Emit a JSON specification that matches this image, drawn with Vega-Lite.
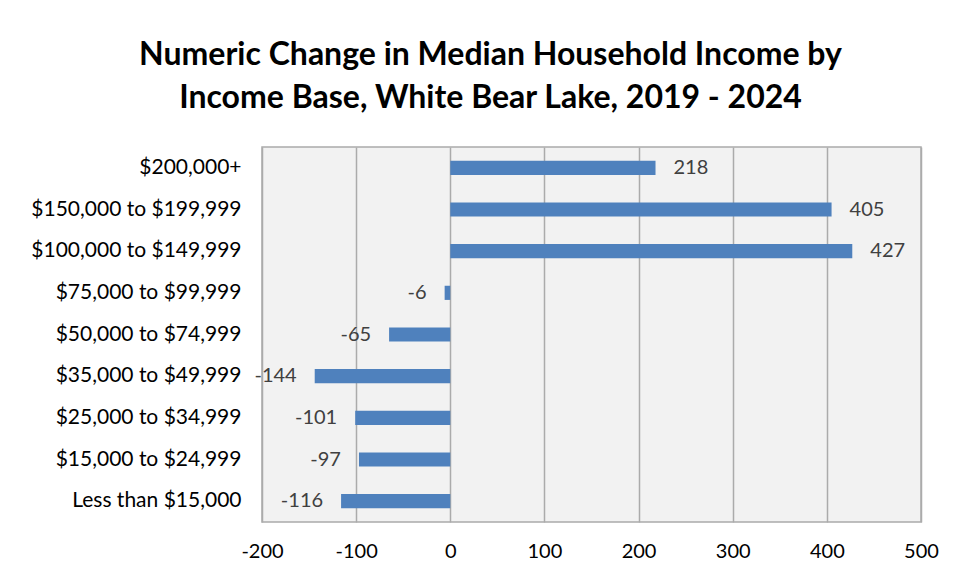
{
  "$schema": "https://vega.github.io/schema/vega-lite/v6.json",
  "width": 659,
  "height": 375,
  "autosize": {"type": "none"},
  "padding": {"left": 262, "top": 147, "right": 33, "bottom": 57},
  "background": "white",
  "title": {
    "text": ["Numeric Change in Median Household Income by", "Income Base, White Bear Lake, 2019 - 2024"],
    "font": "Lato",
    "fontSize": 32,
    "fontWeight": "bold",
    "color": "#000000",
    "lineHeight": 43,
    "anchor": "middle",
    "frame": "group",
    "dx": -101,
    "offset": 32
  },
  "config": {
    "view": {"fill": "#F2F2F2", "stroke": "#ABABAB", "strokeWidth": 1.5},
    "font": "Lato",
    "locale": {
      "number": {"decimal": ".", "thousands": ",", "grouping": [3], "currency": ["$", ""], "minus": "-"}
    }
  },
  "data": {
    "values": [
      {"category": "$200,000+", "value": 218},
      {"category": "$150,000 to $199,999", "value": 405},
      {"category": "$100,000 to $149,999", "value": 427},
      {"category": "$75,000 to $99,999", "value": -6},
      {"category": "$50,000 to $74,999", "value": -65},
      {"category": "$35,000 to $49,999", "value": -144},
      {"category": "$25,000 to $34,999", "value": -101},
      {"category": "$15,000 to $24,999", "value": -97},
      {"category": "Less than $15,000", "value": -116}
    ]
  },
  "encoding": {
    "y": {
      "field": "category",
      "type": "nominal",
      "sort": null,
      "scale": {"paddingInner": 0.66, "paddingOuter": 0.33},
      "axis": {
        "title": null,
        "domain": false,
        "ticks": false,
        "labelPadding": 21,
        "labelFontSize": 21,
        "labelLimit": 0,
        "labelColor": "#000000",
        "labelFont": "Lato",
        "grid": false
      }
    },
    "x": {
      "field": "value",
      "type": "quantitative",
      "scale": {"domain": [-200, 500], "nice": false, "zero": false},
      "axis": {
        "title": null,
        "values": [-200, -100, 0, 100, 200, 300, 400, 500],
        "domain": false,
        "ticks": false,
        "grid": true,
        "gridColor": "#ABABAB",
        "gridWidth": 1.5,
        "labelPadding": 19,
        "labelFontSize": 20,
        "labelColor": "#000000",
        "labelFont": "Lato",
        "labelFlush": false
      }
    }
  },
  "layer": [
    {"mark": {"type": "bar", "color": "#4F81BD"}},
    {
      "transform": [{"filter": "datum.value >= 0"}],
      "mark": {"type": "text", "align": "left", "baseline": "middle", "dx": 18, "fontSize": 20, "color": "#404040", "font": "Lato"},
      "encoding": {"text": {"field": "value", "type": "quantitative"}}
    },
    {
      "transform": [{"filter": "datum.value < 0"}],
      "mark": {"type": "text", "align": "right", "baseline": "middle", "dx": -18, "fontSize": 20, "color": "#404040", "font": "Lato"},
      "encoding": {"text": {"field": "value", "type": "quantitative"}}
    }
  ]
}
